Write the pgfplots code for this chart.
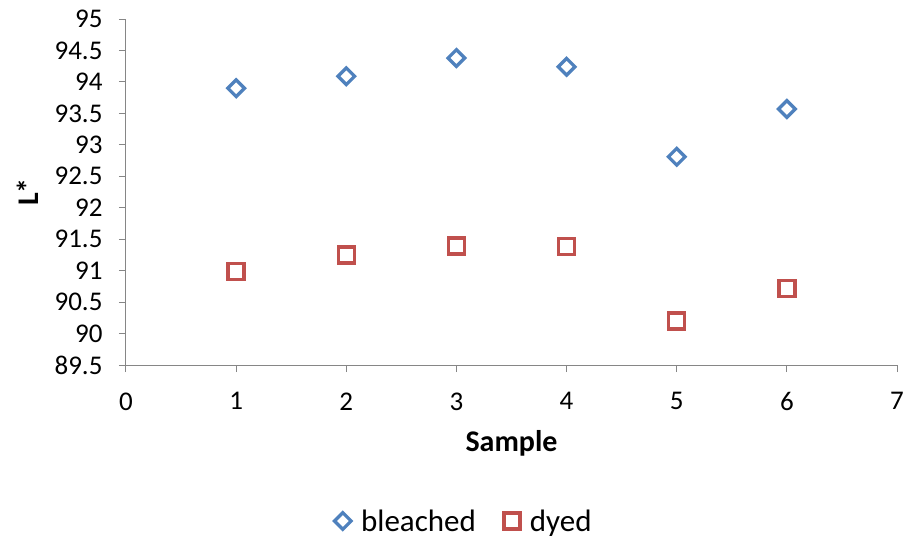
\documentclass[border=0pt]{standalone}
\usepackage{fontspec}
\setmainfont{Carlito}
\usepackage{pgfplots}
\pgfplotsset{compat=1.18}
\definecolor{axgray}{HTML}{868686}
\definecolor{cblue}{HTML}{4F81BD}
\definecolor{cred}{HTML}{C0504D}
\begin{document}
\begin{tikzpicture}
\path[use as bounding box] (-126pt,-177pt) rectangle (786pt,365pt);
\begin{axis}[
  at={(0,0)}, anchor=south west,
  scale only axis, width=771pt, height=346pt,
  xmin=0, xmax=7, ymin=89.5, ymax=95,
  xtick={0,1,2,3,4,5,6,7},
  ytick={89.5,90,90.5,91,91.5,92,92.5,93,93.5,94,94.5,95},
  axis lines=left,
  axis line style={-, draw=axgray, line width=1pt},
  tick style={draw=axgray, line width=1pt},
  tick align=outside, major tick length=7pt,
  /pgf/number format/assume math mode=true,
  /pgf/number format/.cd, fixed, precision=1, /pgfplots/.cd,
  tick label style={font=\fontsize{27}{31}\selectfont, text=black},
  yticklabel style={xshift=-13pt},
  xticklabel style={yshift=-17pt},
  xlabel={\textbf{Sample}},
  ylabel={\textbf{L*}},
  every axis x label/.style={at={(axis description cs:0.5,-0.2275)}, anchor=center, font=\fontsize{30}{34}\selectfont},
  every axis y label/.style={at={(axis description cs:-0.1271,0.5)}, anchor=center, rotate=90, font=\fontsize{30}{34}\selectfont},
  legend style={at={(axis description cs:0.4384,-0.4509)}, anchor=center, draw=none, fill=none,
    font=\fontsize{31}{35}\selectfont, legend columns=2,
    /tikz/every odd column/.append style={column sep=8pt},
    /tikz/every even column/.append style={column sep=26pt}},
  legend cell align=left,
]
\addplot[only marks, mark=square, mark size=5.9pt, line width=3.3pt, color=cblue,
  every mark/.append style={rotate=45}] coordinates {
  (1,93.90) (2,94.09) (3,94.38) (4,94.24) (5,92.81) (6,93.57)
};
\addlegendentry{bleached}
\addplot[only marks, mark=square, mark size=8pt, line width=3.3pt, color=cred] coordinates {
  (1,90.99) (2,91.25) (3,91.39) (4,91.38) (5,90.20) (6,90.72)
};
\addlegendentry{dyed}
\end{axis}
\end{tikzpicture}
\end{document}
